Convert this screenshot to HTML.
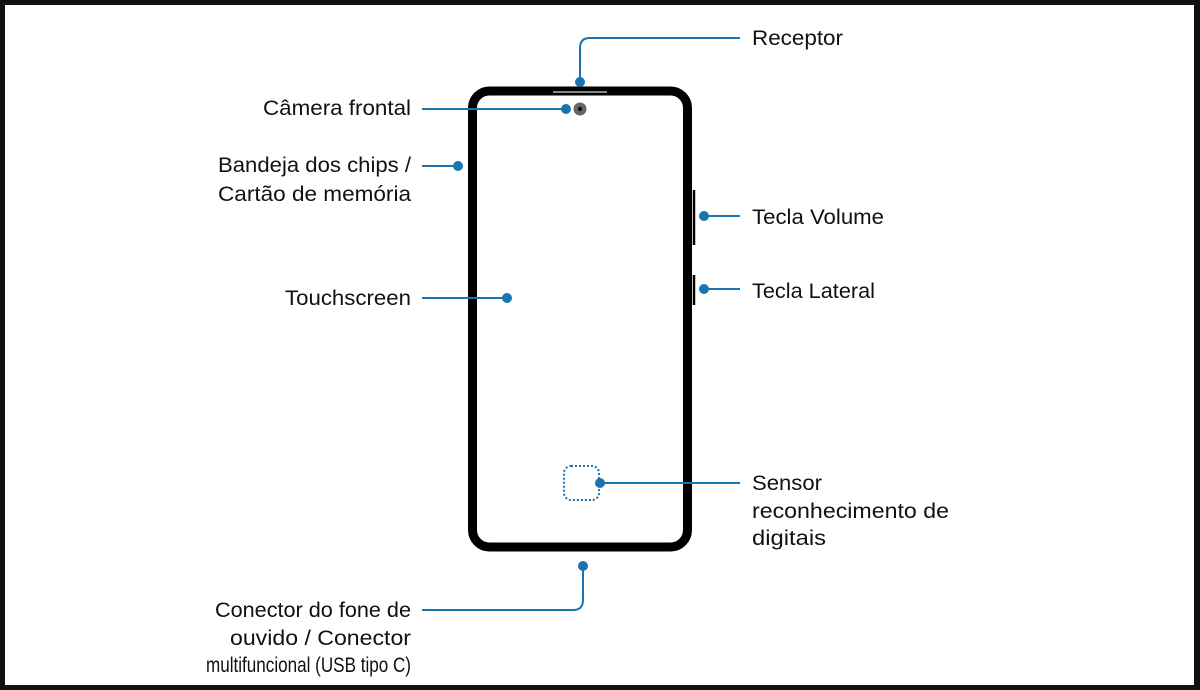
<!DOCTYPE html>
<html><head><meta charset="utf-8"><style>
html,body{margin:0;padding:0;background:#fff}
svg{display:block}
text{font-family:"Liberation Sans",sans-serif;font-size:21px;fill:#111}
</style></head><body>
<svg width="1200" height="690" viewBox="0 0 1200 690">
<rect x="0" y="0" width="1200" height="690" fill="#111"/>
<rect x="5" y="5" width="1189" height="680" fill="#fff"/>
<rect x="472.5" y="91" width="215" height="456" rx="17" fill="none" stroke="#000" stroke-width="9"/>
<line x1="553" y1="92" x2="607" y2="92" stroke="#888" stroke-width="2"/>
<line x1="694" y1="190" x2="694" y2="245" stroke="#000" stroke-width="2.5"/>
<line x1="694" y1="275" x2="694" y2="305" stroke="#000" stroke-width="2.5"/>
<circle cx="580" cy="109" r="6.5" fill="#666"/><circle cx="580" cy="109" r="2.2" fill="#111"/>
<rect x="564" y="466" width="35" height="34" rx="7" fill="none" stroke="#1a74b0" stroke-width="2" stroke-dasharray="2 2"/>
<g stroke="#1a74b0" stroke-width="2" fill="none">
<path d="M580 82 V48 Q580 38 590 38 H740"/>
<line x1="422" y1="109" x2="566" y2="109"/>
<line x1="422" y1="166" x2="458" y2="166"/>
<line x1="422" y1="298" x2="507" y2="298"/>
<line x1="704" y1="216" x2="740" y2="216"/>
<line x1="704" y1="289" x2="740" y2="289"/>
<line x1="600" y1="483" x2="740" y2="483"/>
<path d="M583 566 V600 Q583 610 573 610 H422"/>
</g>
<g fill="#1a74b0">
<circle cx="580" cy="82" r="5"/><circle cx="566" cy="109" r="5"/><circle cx="458" cy="166" r="5"/>
<circle cx="507" cy="298" r="5"/><circle cx="704" cy="216" r="5"/><circle cx="704" cy="289" r="5"/>
<circle cx="600" cy="483" r="5"/><circle cx="583" cy="566" r="5"/>
</g>
<text x="752" y="45" textLength="91" lengthAdjust="spacingAndGlyphs">Receptor</text>
<text x="263" y="115" textLength="148" lengthAdjust="spacingAndGlyphs">Câmera frontal</text>
<text x="218" y="172" textLength="193" lengthAdjust="spacingAndGlyphs">Bandeja dos chips /</text>
<text x="218" y="201" textLength="193" lengthAdjust="spacingAndGlyphs">Cartão de memória</text>
<text x="285" y="305" textLength="126" lengthAdjust="spacingAndGlyphs">Touchscreen</text>
<text x="752" y="224" textLength="132" lengthAdjust="spacingAndGlyphs">Tecla Volume</text>
<text x="752" y="298" textLength="123" lengthAdjust="spacingAndGlyphs">Tecla Lateral</text>
<text x="752" y="490" textLength="70" lengthAdjust="spacingAndGlyphs">Sensor</text>
<text x="752" y="518" textLength="197" lengthAdjust="spacingAndGlyphs">reconhecimento de</text>
<text x="752" y="545" textLength="74" lengthAdjust="spacingAndGlyphs">digitais</text>
<text x="215" y="617" textLength="196" lengthAdjust="spacingAndGlyphs">Conector do fone de</text>
<text x="230" y="645" textLength="181" lengthAdjust="spacingAndGlyphs">ouvido / Conector</text>
<text x="206" y="672" textLength="205" lengthAdjust="spacingAndGlyphs">multifuncional (USB tipo C)</text>
</svg>
</body></html>
